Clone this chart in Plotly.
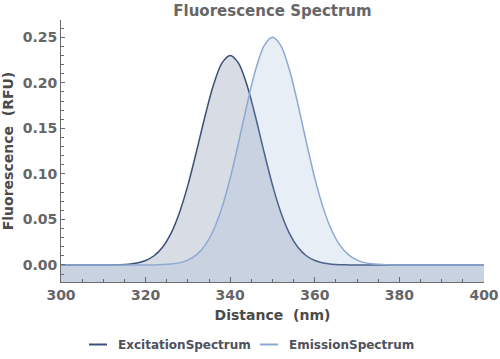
import plotly.graph_objects as go

# Wavelength grid (nm) and values
wavelength = [300, 302, 304, 306, 308, 310, 312, 314, 316, 318,
              320, 322, 324, 326, 328, 330, 332, 334, 336, 338,
              340, 342, 344, 346, 348, 350, 352, 354, 356, 358,
              360, 362, 364, 366, 368, 370, 372, 374, 376, 378,
              380, 382, 384, 386, 388, 390, 392, 394, 396, 398, 400]

excitation = [0.0, 0.0, 0.0, 0.0, 0.0, 0.0, 0.0001, 0.0003, 0.0009, 0.0022,
              0.0049, 0.0101, 0.0195, 0.0347, 0.0574, 0.0877, 0.1241, 0.1625, 0.1971, 0.2213,
              0.2300, 0.2213, 0.1971, 0.1625, 0.1241, 0.0877, 0.0574, 0.0347, 0.0195, 0.0101,
              0.0049, 0.0022, 0.0009, 0.0003, 0.0001, 0.0, 0.0, 0.0, 0.0, 0.0,
              0.0, 0.0, 0.0, 0.0, 0.0, 0.0, 0.0, 0.0, 0.0, 0.0, 0.0]

emission = [0.0, 0.0, 0.0, 0.0, 0.0, 0.0, 0.0, 0.0, 0.0, 0.0,
            0.0, 0.0001, 0.0004, 0.0010, 0.0023, 0.0053, 0.0110, 0.0212, 0.0378, 0.0624,
            0.0953, 0.1349, 0.1767, 0.2143, 0.2405, 0.2500, 0.2405, 0.2143, 0.1767, 0.1349,
            0.0953, 0.0624, 0.0378, 0.0212, 0.0110, 0.0053, 0.0023, 0.0010, 0.0004, 0.0001,
            0.0, 0.0, 0.0, 0.0, 0.0, 0.0, 0.0, 0.0, 0.0, 0.0, 0.0]

series_names = ["ExcitationSpectrum", "EmissionSpectrum"]
x_ticks = [300, 320, 340, 360, 380, 400]
y_ticks = [0.00, 0.05, 0.10, 0.15, 0.20, 0.25]
x_tick_text = ["300", "320", "340", "360", "380", "400"]
y_tick_text = ["0.00", "0.05", "0.10", "0.15", "0.20", "0.25"]

Y_MIN, Y_MAX = -0.0187, 0.269
X_MIN, X_MAX = 300, 400

line_colors = ["#3b5078", "#8ea8d2"]
fill_colors = ["rgba(59,80,120,0.2)", "rgba(142,168,210,0.2)"]

FONT = "DejaVu Sans"
W, H = 500, 359
ML, MR, MT, MB = 61, 16, 20, 77
PW, PH = W - ML - MR, H - MT - MB

fig = go.Figure()
baseline = [Y_MIN] * len(wavelength)
for name, vals, lc, fc in zip(series_names, [excitation, emission], line_colors, fill_colors):
    fig.add_trace(go.Scatter(x=wavelength, y=baseline, mode="lines",
                             line=dict(width=0, color="rgba(0,0,0,0)"),
                             hoverinfo="skip", showlegend=False))
    fig.add_trace(go.Scatter(x=wavelength, y=vals, mode="lines", name=name,
                             line=dict(color=lc, width=1.5, shape="spline", smoothing=0.8),
                             fill="tonexty", fillcolor=fc, showlegend=False))

axis_color = "#6b6b6b"
fig.update_layout(
    width=W, height=H,
    margin=dict(l=ML, r=MR, t=MT, b=MB, autoexpand=False),
    paper_bgcolor="white", plot_bgcolor="white",
    title=dict(text="Fluorescence Spectrum", x=(ML + W - MR) / 2 / W, xanchor="center",
               y=1 - 11 / H, yanchor="middle", automargin=False,
               font=dict(family=FONT, size=15, color="#666666", weight="bold")),
    showlegend=False,
)
fig.update_xaxes(
    range=[X_MIN, X_MAX], showgrid=False, zeroline=False, automargin=False,
    showline=True, linecolor=axis_color, linewidth=1,
    tickmode="array", tickvals=x_ticks, ticktext=x_tick_text,
    ticks="inside", ticklen=5, tickcolor=axis_color, tickwidth=1,
    minor=dict(ticks="inside", ticklen=3, dtick=5, tickcolor=axis_color, tickwidth=1, showgrid=False),
    tickfont=dict(family=FONT, size=14, color="#666666", weight="bold"),
    title=dict(text="Distance  (nm)", standoff=8,
               font=dict(family=FONT, size=14, color="#4a4a4a", weight="bold")),
)
fig.update_yaxes(
    range=[Y_MIN, Y_MAX], showgrid=False, zeroline=False, automargin=False,
    showline=True, linecolor=axis_color, linewidth=1,
    tickmode="array", tickvals=y_ticks, ticktext=y_tick_text,
    ticks="inside", ticklen=4, tickcolor=axis_color, tickwidth=1,
    minor=dict(ticks="inside", ticklen=2.5, dtick=0.01, tick0=0, tickcolor=axis_color, tickwidth=1, showgrid=False),
    tickfont=dict(family=FONT, size=14, color="#666666", weight="bold"),
    title=dict(text="Fluorescence  (RFU)", standoff=6,
               font=dict(family=FONT, size=14, color="#4a4a4a", weight="bold")),
)

# Manual legend below the plot
ly = (H - MB - 344.5) / PH
legend_items = [(89, 107, 116), (260, 278, 287)]
for (x0, x1, xt), name, lc in zip(legend_items, series_names, line_colors):
    fig.add_shape(type="line", xref="paper", yref="paper",
                  x0=(x0 - ML) / PW, x1=(x1 - ML) / PW, y0=ly, y1=ly,
                  line=dict(color=lc, width=2))
    fig.add_annotation(text=name, xref="paper", yref="paper",
                       x=(xt - ML) / PW, y=ly,
                       xanchor="left", yanchor="middle", showarrow=False,
                       font=dict(family=FONT, size=12, color="#4d525c", weight="bold"))

fig.write_html("out.html",
               config={"displayModeBar": False, "staticPlot": True},
               post_script="document.body.style.margin='0';document.body.style.padding='0';document.body.style.overflow='hidden';")
